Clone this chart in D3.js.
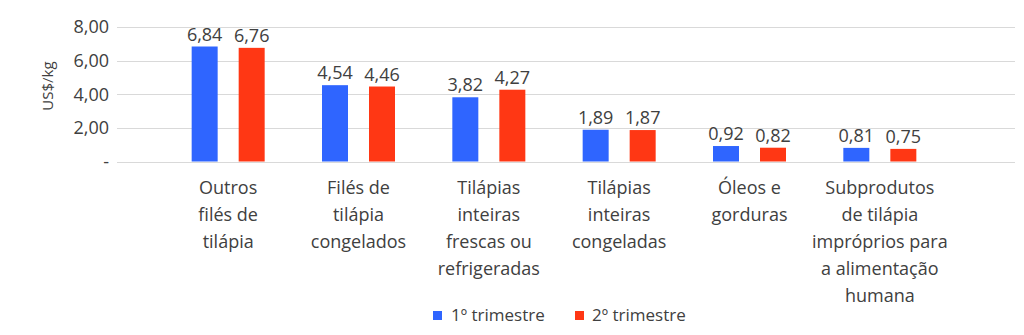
<!DOCTYPE html>
<html>
<head>
<meta charset="utf-8">
<script src="https://cdn.jsdelivr.net/npm/d3@7"></script>
<style>
  html, body { margin: 0; padding: 0; background: #fff; }
  svg { display: block; font-family: "Open Sans", "Noto Sans", sans-serif; }
</style>
</head>
<body>
<svg id="chart" width="1024" height="335"></svg>
<script>
// Preço médio (US$/kg) por produto e trimestre
const categories = [
  ["Outros", "filés de", "tilápia"],
  ["Filés de", "tilápia", "congelados"],
  ["Tilápias", "inteiras", "frescas ou", "refrigeradas"],
  ["Tilápias", "inteiras", "congeladas"],
  ["Óleos e", "gorduras"],
  ["Subprodutos", "de tilápia", "impróprios para", "a alimentação", "humana"]
];
const trimestre1 = [6.84, 4.54, 3.82, 1.89, 0.92, 0.81];
const trimestre2 = [6.76, 4.46, 4.27, 1.87, 0.82, 0.75];
const seriesNames = ["1º trimestre", "2º trimestre"];
const yTicks = [0, 2, 4, 6, 8];

const colors = ["#2f65ff", "#ff3714"];
const textColor = "#404040";

const svg = d3.select("#chart");

const catKeys = categories.map(c => c.join(" "));
const x = d3.scaleBand().domain(catKeys).range([163, 945]).paddingInner(0).paddingOuter(0);
const pairW = 73;
const x1 = d3.scaleBand()
  .domain([0, 1])
  .range([(x.bandwidth() - pairW) / 2, (x.bandwidth() + pairW) / 2])
  .paddingInner(0.447);
const y = d3.scaleLinear().domain([0, 8]).range([161.5, 27]);

const fmt = v => v === 0 ? "-" : d3.format(".2f")(v).replace(".", ",");

// gridlines across the full plot area
const gridLeft = 117, gridRight = 1015;
svg.append("g")
  .selectAll("line")
  .data(yTicks)
  .join("line")
  .attr("x1", gridLeft).attr("x2", gridRight)
  .attr("y1", d => Math.round(y(d)) + 0.5).attr("y2", d => Math.round(y(d)) + 0.5)
  .attr("stroke", "#d9d9d9").attr("stroke-width", 1.2);

// y axis labels
const yAxis = d3.axisLeft(y).tickValues(yTicks).tickSize(0).tickPadding(0).tickFormat(fmt);
const gy = svg.append("g").attr("transform", "translate(109,0)").call(yAxis);
gy.select(".domain").remove();
gy.selectAll("text")
  .attr("font-size", 18).attr("fill", textColor)
  .attr("font-family", "'Open Sans', sans-serif");

// y axis title
svg.append("text")
  .attr("transform", "translate(53,86) rotate(-90)")
  .attr("text-anchor", "middle")
  .attr("font-size", 15).attr("fill", textColor)
  .text("US$/kg");

// bars
const series = [trimestre1, trimestre2];
const groups = svg.append("g").selectAll("g")
  .data(catKeys)
  .join("g")
  .attr("transform", d => `translate(${x(d)},0)`);

groups.each(function(d, i) {
  const g = d3.select(this);
  series.forEach((vals, s) => {
    const v = vals[i];
    g.append("rect")
      .attr("x", x1(s)).attr("width", x1.bandwidth())
      .attr("y", y(v)).attr("height", y(0) - y(v))
      .attr("fill", colors[s]);
    g.append("text")
      .attr("x", x1(s) + x1.bandwidth() / 2)
      .attr("y", y(v) - 6)
      .attr("text-anchor", "middle")
      .attr("font-size", 18).attr("fill", textColor)
      .text(fmt(v));
  });
});

// category labels
const xAxis = svg.append("g");
categories.forEach((lines, i) => {
  const cx = x(catKeys[i]) + x.bandwidth() / 2;
  const t = xAxis.append("text")
    .attr("text-anchor", "middle")
    .attr("font-size", 18).attr("fill", textColor);
  lines.forEach((ln, j) => {
    t.append("tspan").attr("x", cx).attr("y", 194 + j * 27).text(ln);
  });
});

// legend
const legendItems = [{ x: 433, tx: 451 }, { x: 575, tx: 592 }];
const legend = svg.append("g");
seriesNames.forEach((name, s) => {
  legend.append("rect")
    .attr("x", legendItems[s].x).attr("y", 311)
    .attr("width", 9).attr("height", 9)
    .attr("fill", colors[s]);
  legend.append("text")
    .attr("x", legendItems[s].tx).attr("y", 321)
    .attr("font-size", 17).attr("fill", textColor)
    .text(name);
});
</script>
</body>
</html>
